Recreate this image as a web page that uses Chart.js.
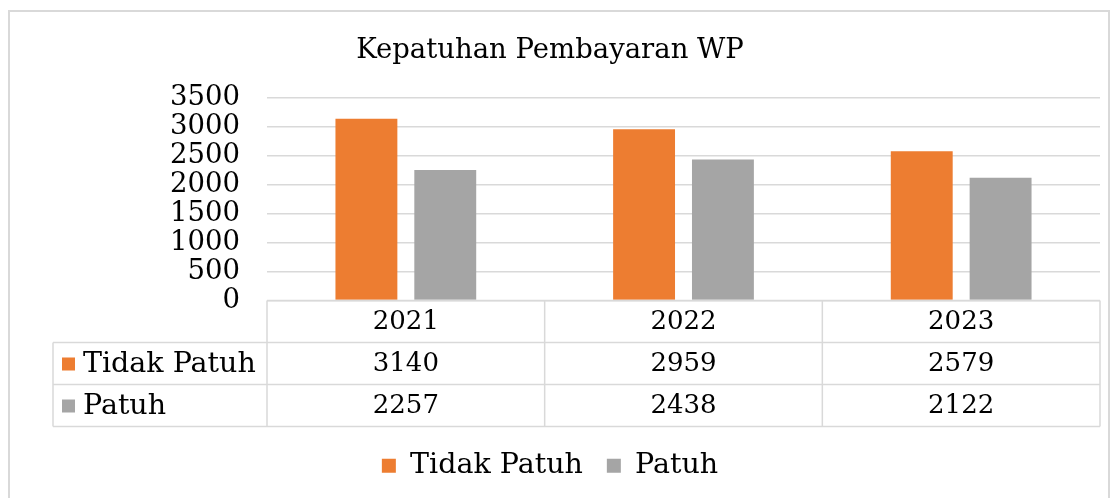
<!DOCTYPE html>
<html>
<head>
<meta charset="utf-8">
<script src="https://cdn.jsdelivr.net/npm/chart.js@4/dist/chart.umd.min.js"></script>
<style>
  html, body { margin: 0; padding: 0; background: #fff; }
  #wrap { width: 1118px; height: 498px; }
</style>
</head>
<body>
<div id="wrap"><canvas id="wpChart" width="1118" height="498"></canvas></div>
<script>
const years = ['2021', '2022', '2023'];
const tidakPatuh = [3140, 2959, 2579];
const patuh = [2257, 2438, 2122];
const seriesNames = ['Tidak Patuh', 'Patuh'];

const ORANGE = '#ED7D31';
const GRAY = '#A5A5A5';
const LINE = '#d9d9d9';
const FONT = "'DejaVu Serif', serif";

// outer chart border + data table below the plot
const tablePlugin = {
    id: 'dataTable',
    beforeDraw(chart) {
        const ctx = chart.ctx;
        ctx.save();
        ctx.strokeStyle = LINE;
        ctx.lineWidth = 2;
        ctx.strokeRect(9, 11, 1100, 500);
        ctx.restore();
    },
    afterDraw(chart) {
        const ctx = chart.ctx;
        const area = chart.chartArea;
        const x = chart.scales.x;
        const n = years.length;
        const colW = (area.right - area.left) / n;
        const rowH = 42;
        const top = area.bottom;
        const leftEdge = 53;
        const rows = [tidakPatuh, patuh];
        const colors = [ORANGE, GRAY];

        ctx.save();
        ctx.strokeStyle = LINE;
        ctx.lineWidth = 1.5;
        ctx.beginPath();
        // horizontal lines
        ctx.moveTo(area.left, top); ctx.lineTo(area.right, top);
        for (let r = 1; r <= 3; r++) {
            ctx.moveTo(leftEdge, top + r * rowH); ctx.lineTo(area.right, top + r * rowH);
        }
        // vertical lines
        ctx.moveTo(leftEdge, top + rowH); ctx.lineTo(leftEdge, top + 3 * rowH);
        for (let i = 0; i <= n; i++) {
            const vx = area.left + i * colW;
            ctx.moveTo(vx, top); ctx.lineTo(vx, top + 3 * rowH);
        }
        ctx.stroke();

        ctx.fillStyle = '#000';
        ctx.font = '26px ' + FONT;
        ctx.textBaseline = 'middle';
        ctx.textAlign = 'center';
        for (let i = 0; i < n; i++) {
            const cx = x.getPixelForValue(i);
            ctx.fillText(years[i], cx, top + rowH / 2 + 1);
            ctx.fillText(String(rows[0][i]), cx, top + rowH * 1.5 + 1);
            ctx.fillText(String(rows[1][i]), cx, top + rowH * 2.5 + 1);
        }
        ctx.textAlign = 'left';
        ctx.font = '28.5px ' + FONT;
        for (let r = 0; r < 2; r++) {
            const cy = top + rowH * (r + 1.5);
            ctx.fillStyle = colors[r];
            ctx.fillRect(62, cy - 6, 13, 13);
            ctx.fillStyle = '#000';
            ctx.fillText(seriesNames[r], 83, cy + 1);
        }
        ctx.restore();
    }
};

new Chart(document.getElementById('wpChart'), {
    type: 'bar',
    data: {
        labels: years,
        datasets: [
            { label: seriesNames[0], data: tidakPatuh, backgroundColor: ORANGE },
            { label: seriesNames[1], data: patuh, backgroundColor: GRAY }
        ]
    },
    options: {
        responsive: false,
        animation: false,
        layout: { padding: { left: 0, right: 18, top: 0, bottom: 8 } },
        datasets: {
            bar: { categoryPercentage: 0.568, barPercentage: 0.785 }
        },
        scales: {
            x: {
                grid: { display: false },
                border: { display: false },
                ticks: { display: false },
                afterFit(scale) { scale.height = 127; }
            },
            y: {
                min: 0,
                max: 3500,
                grid: { color: LINE, lineWidth: 1.5, drawTicks: false },
                border: { display: false },
                ticks: {
                    stepSize: 500,
                    autoSkip: false,
                    padding: 27,
                    color: '#000',
                    font: { family: FONT, size: 27.5 },
                    callback: v => String(v)
                },
                afterFit(scale) { scale.width = 267; }
            }
        },
        plugins: {
            title: {
                display: true,
                text: 'Kepatuhan Pembayaran WP',
                color: '#000',
                font: { family: FONT, size: 27.5, weight: 'normal' },
                padding: { top: 34, bottom: 31 }
            },
            legend: {
                position: 'bottom',
                labels: {
                    color: '#000',
                    boxWidth: 14,
                    boxHeight: 14,
                    padding: 24,
                    font: { family: FONT, size: 28.5 }
                }
            },
            tooltip: { enabled: false }
        }
    },
    plugins: [tablePlugin]
});
</script>
</body>
</html>
